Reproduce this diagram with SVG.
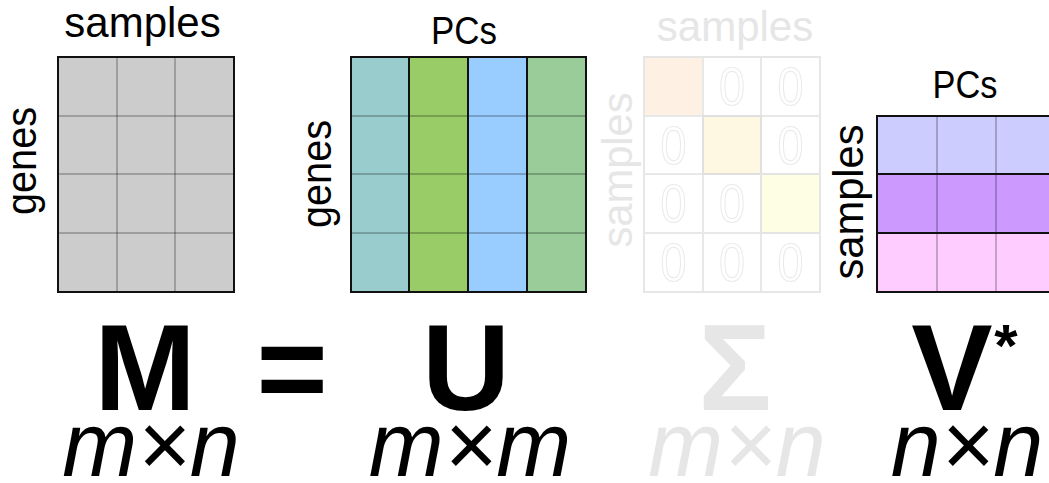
<svg xmlns="http://www.w3.org/2000/svg" width="1049" height="483" viewBox="0 0 1049 483">
  <style>
    .lbl { font-family: "Liberation Sans", Arial, sans-serif; font-size: 42px; fill: #000; }
    .pcs { font-family: "Liberation Sans", Arial, sans-serif; font-size: 39px; fill: #000; }
    .big { font-family: "Liberation Sans", Arial, sans-serif; font-weight: bold; font-size: 122px; fill: #000; text-anchor: middle; }
    .star { font-family: "Liberation Sans", Arial, sans-serif; font-weight: bold; font-size: 60px; fill: #000; text-anchor: middle; }
    .dim { font-family: "Liberation Sans", Arial, sans-serif; font-style: italic; font-size: 90px; fill: #000; text-anchor: middle; }
    .zero { font-family: "Liberation Sans", Arial, sans-serif; font-size: 54px; fill: none; stroke: #EBEBEB; stroke-width: 1.2; text-anchor: middle; }
    .faint { fill: #E6E6E6; }
    .thin { stroke: #000; stroke-opacity: 0.3; stroke-width: 1.5; }
    .thick { stroke: #111; stroke-width: 2; }
    .fgrid { stroke: #E8E8E8; stroke-width: 2; }
  </style>

  <!-- M matrix -->
  <g id="matrix-M">
    <rect x="58" y="57" width="176" height="235" fill="#CCCCCC"/>
    <line class="thin" x1="117" y1="57" x2="117" y2="292"/>
    <line class="thin" x1="175" y1="57" x2="175" y2="292"/>
    <line class="thin" x1="58" y1="116" x2="234" y2="116"/>
    <line class="thin" x1="58" y1="174" x2="234" y2="174"/>
    <line class="thin" x1="58" y1="233" x2="234" y2="233"/>
    <rect x="58" y="57" width="176" height="235" fill="none" stroke="#111" stroke-width="2"/>
    <text class="lbl" x="142.5" y="37" text-anchor="middle">samples</text>
    <text class="lbl" transform="translate(36,161) rotate(-90)" text-anchor="middle" textLength="108" lengthAdjust="spacingAndGlyphs">genes</text>
  </g>

  <!-- U matrix -->
  <g id="matrix-U">
    <rect x="351" y="57" width="58" height="235" fill="#99CCCC"/>
    <rect x="409" y="57" width="59" height="235" fill="#99CC66"/>
    <rect x="468" y="57" width="59" height="235" fill="#99CCFF"/>
    <rect x="527" y="57" width="59" height="235" fill="#99CC99"/>
    <line class="thin" x1="351" y1="116" x2="586" y2="116"/>
    <line class="thin" x1="351" y1="174" x2="586" y2="174"/>
    <line class="thin" x1="351" y1="233" x2="586" y2="233"/>
    <line class="thick" x1="409" y1="57" x2="409" y2="292"/>
    <line class="thick" x1="468" y1="57" x2="468" y2="292"/>
    <line class="thick" x1="527" y1="57" x2="527" y2="292"/>
    <rect x="351" y="57" width="235" height="235" fill="none" stroke="#111" stroke-width="2"/>
    <text class="pcs" x="464" y="44" text-anchor="middle" textLength="66" lengthAdjust="spacingAndGlyphs">PCs</text>
    <text class="lbl" transform="translate(331,174) rotate(-90)" text-anchor="middle" textLength="108" lengthAdjust="spacingAndGlyphs">genes</text>
  </g>

  <!-- Sigma matrix (faded) -->
  <g id="matrix-Sigma">
    <rect x="644" y="57" width="176" height="235" fill="#FFFFFF"/>
    <rect x="644" y="57" width="59" height="59" fill="#FEF1E3"/>
    <rect x="703" y="116" width="58" height="58" fill="#FEF7E2"/>
    <rect x="761" y="174" width="59" height="59" fill="#FEFEE4"/>
    <line class="fgrid" x1="703" y1="57" x2="703" y2="292"/>
    <line class="fgrid" x1="761" y1="57" x2="761" y2="292"/>
    <line class="fgrid" x1="644" y1="116" x2="820" y2="116"/>
    <line class="fgrid" x1="644" y1="174" x2="820" y2="174"/>
    <line class="fgrid" x1="644" y1="233" x2="820" y2="233"/>
    <rect x="703" y="116" width="58" height="58" fill="none" stroke="#E0E0E0" stroke-width="2"/>
    <rect x="761" y="174" width="59" height="59" fill="none" stroke="#E4E4E4" stroke-width="2"/>
    <rect x="644" y="57" width="176" height="235" fill="none" stroke="#E6E6E6" stroke-width="2"/>
    <text class="zero" x="732" y="105" textLength="26" lengthAdjust="spacingAndGlyphs">0</text>
    <text class="zero" x="790.5" y="105" textLength="26" lengthAdjust="spacingAndGlyphs">0</text>
    <text class="zero" x="673.5" y="164" textLength="26" lengthAdjust="spacingAndGlyphs">0</text>
    <text class="zero" x="790.5" y="164" textLength="26" lengthAdjust="spacingAndGlyphs">0</text>
    <text class="zero" x="673.5" y="222" textLength="26" lengthAdjust="spacingAndGlyphs">0</text>
    <text class="zero" x="732" y="222" textLength="26" lengthAdjust="spacingAndGlyphs">0</text>
    <text class="zero" x="673.5" y="281" textLength="26" lengthAdjust="spacingAndGlyphs">0</text>
    <text class="zero" x="732" y="281" textLength="26" lengthAdjust="spacingAndGlyphs">0</text>
    <text class="zero" x="790.5" y="281" textLength="26" lengthAdjust="spacingAndGlyphs">0</text>
    <text class="lbl faint" x="735" y="41" text-anchor="middle">samples</text>
    <text class="lbl faint" transform="translate(632,170) rotate(-90)" text-anchor="middle" textLength="155" lengthAdjust="spacingAndGlyphs">samples</text>
  </g>

  <!-- V* matrix -->
  <g id="matrix-V">
    <rect x="877" y="116" width="180" height="58" fill="#CCCCFF"/>
    <rect x="877" y="174" width="180" height="59" fill="#CC99FF"/>
    <rect x="877" y="233" width="180" height="59" fill="#FFCCFF"/>
    <line class="thin" x1="937" y1="116" x2="937" y2="292"/>
    <line class="thin" x1="996" y1="116" x2="996" y2="292"/>
    <line class="thick" x1="877" y1="174" x2="1057" y2="174"/>
    <line class="thick" x1="877" y1="233" x2="1057" y2="233"/>
    <rect x="877" y="116" width="180" height="176" fill="none" stroke="#111" stroke-width="2"/>
    <text class="pcs" x="965" y="98" text-anchor="middle" textLength="65" lengthAdjust="spacingAndGlyphs">PCs</text>
    <text class="lbl" transform="translate(863,202) rotate(-90)" text-anchor="middle" textLength="155" lengthAdjust="spacingAndGlyphs">samples</text>
  </g>

  <!-- Equation -->
  <g id="equation">
    <text class="big" x="145" y="410">M</text>
    <text class="big" x="292" y="410">=</text>
    <text class="big" x="466" y="410">U</text>
    <text class="big faint" x="735" y="410">Σ</text>
    <text class="big" x="952" y="410">V</text>
    <text class="star" x="1006" y="366">*</text>
    <text class="dim" x="151" y="476">m×n</text>
    <text class="dim" x="470" y="476">m×m</text>
    <text class="dim faint" x="737" y="476">m×n</text>
    <text class="dim" x="967" y="476">n×n</text>
  </g>

  <g id="connectors"/>
</svg>
